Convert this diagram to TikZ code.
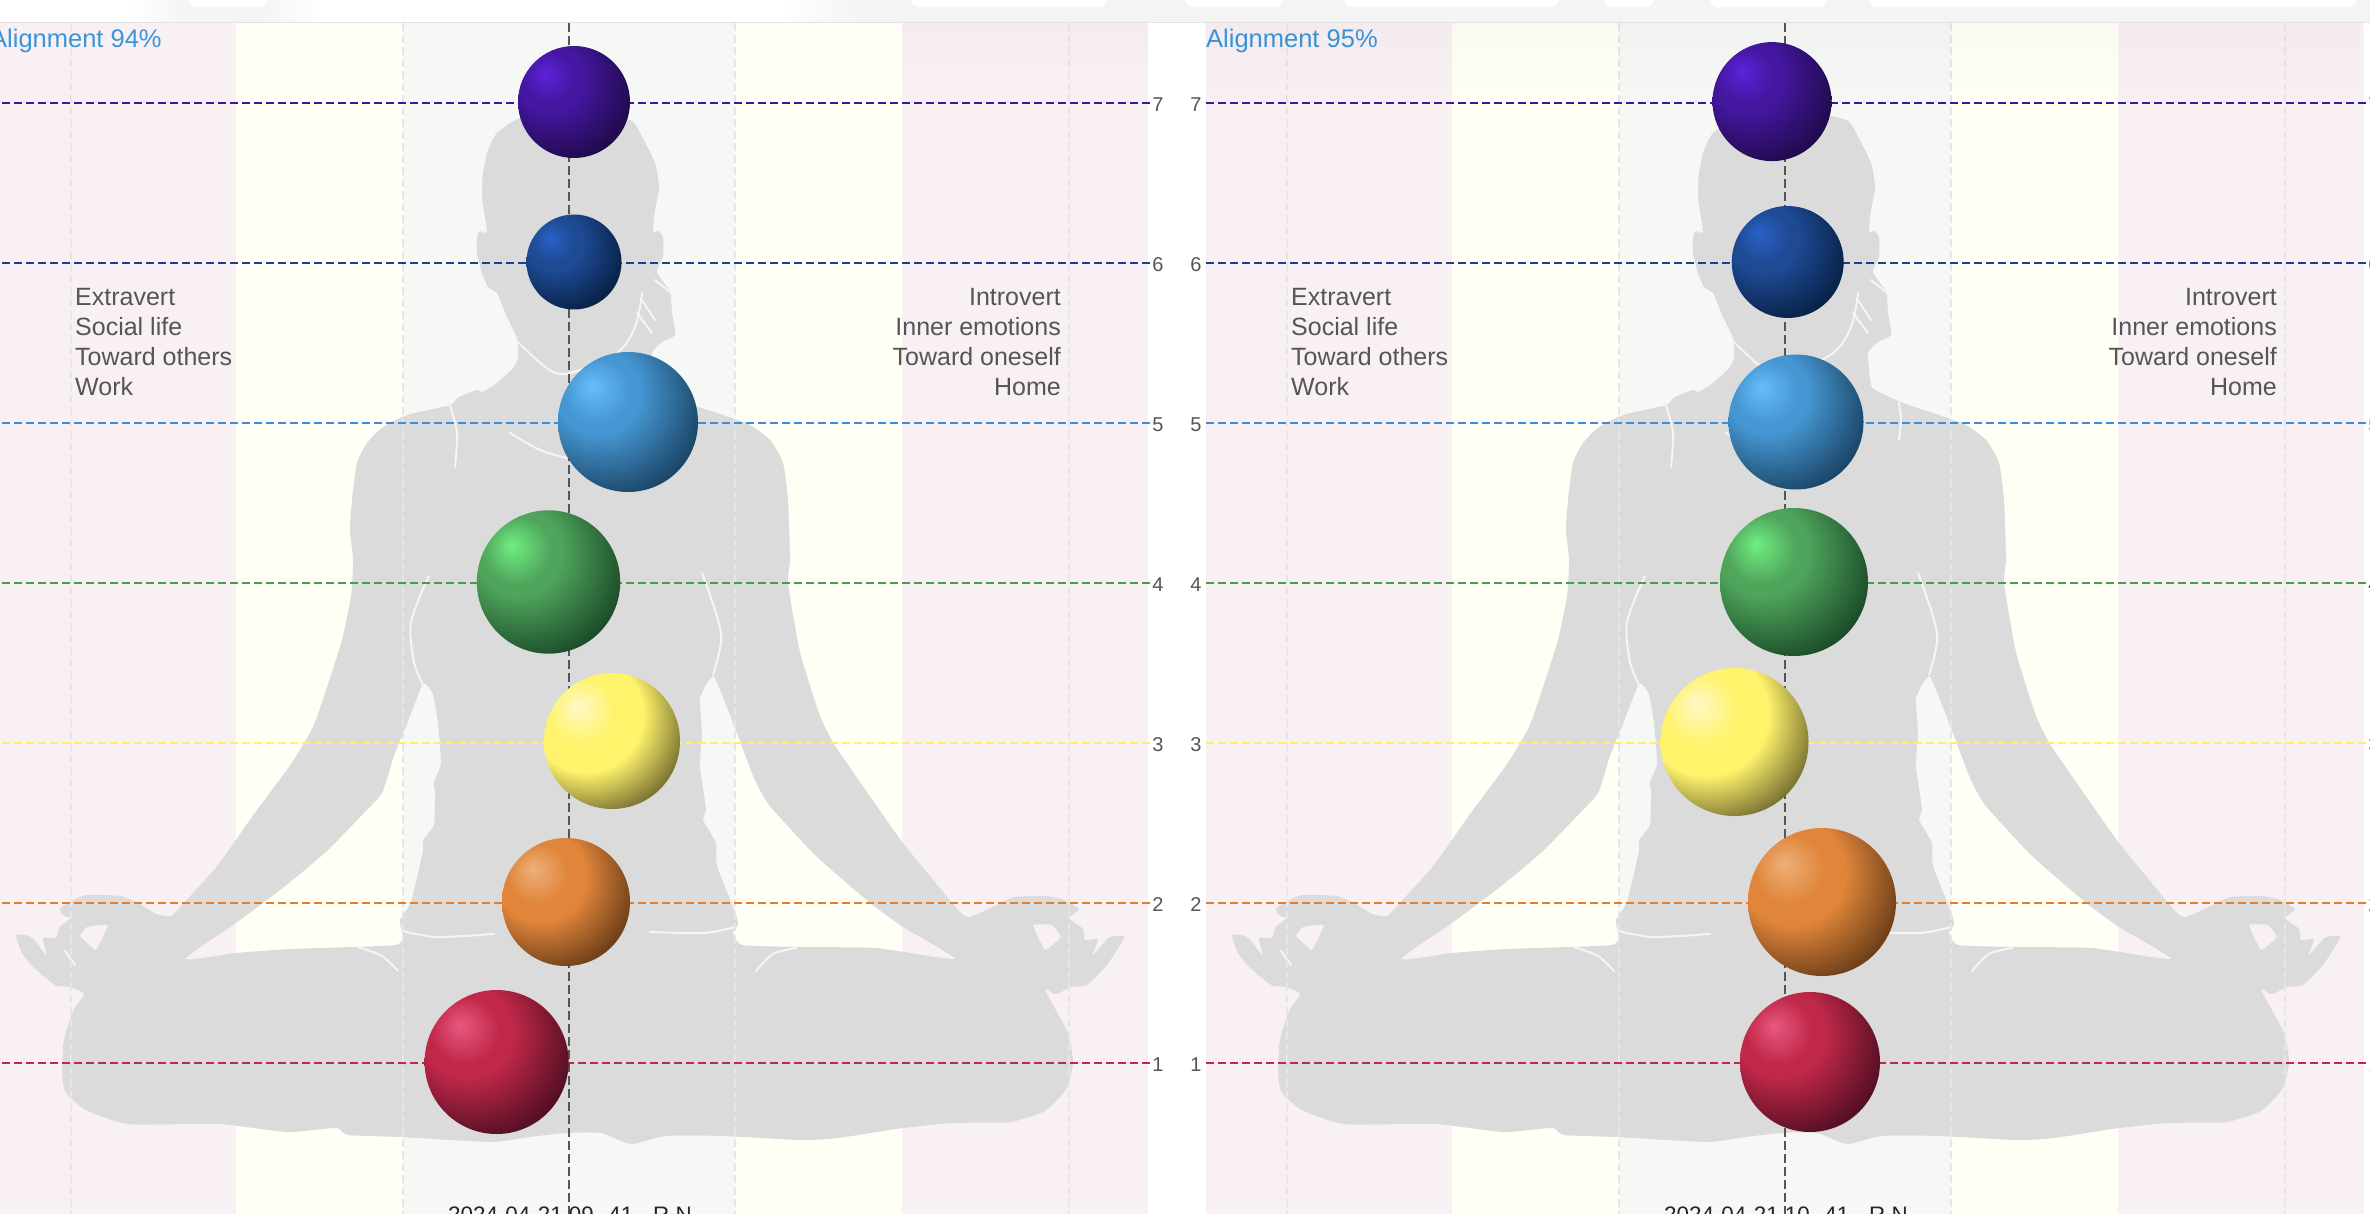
\documentclass[tikz,border=0pt]{standalone}
\usepackage{fontspec}
\setmainfont{Liberation Sans}
\usetikzlibrary{fadings}

\definecolor{bandGrey}{HTML}{F4F4F4}
\definecolor{bandLine}{HTML}{E2E2E2}
\definecolor{stripePink}{HTML}{F9F0F4}
\definecolor{stripeYellow}{HTML}{FFFFF6}
\definecolor{stripeSage}{HTML}{F6F8F5}
\definecolor{bodyGrey}{HTML}{DBDBDB}
\definecolor{gridGrey}{HTML}{E6E6E6}
\definecolor{labelGrey}{HTML}{555555}
\definecolor{alignBlue}{HTML}{3A95D8}
\definecolor{lvl7}{HTML}{40169C}
\definecolor{lvl6}{HTML}{1F3F90}
\definecolor{lvl5}{HTML}{3A8FD6}
\definecolor{lvl4}{HTML}{3F9F55}
\definecolor{lvl3}{HTML}{FFF06A}
\definecolor{lvl2}{HTML}{E07F30}
\definecolor{lvl1}{HTML}{C02848}

\newcommand{\ballshade}[5]{%
  \definecolor{hi#1}{HTML}{#2}\definecolor{mid#1}{HTML}{#3}\definecolor{dark#1}{HTML}{#4}%
  \pgfdeclareradialshading{ball#1}{\pgfpoint{-13bp}{13bp}}{%
    color(0bp)=(hi#1); color(12bp)=(mid#1); color(#5bp)=(mid#1);
    color(40bp)=(dark#1); color(80bp)=(dark#1)}}
\ballshade{crown}{5C22DC}{43179F}{170735}{15}
\ballshade{brow}{2A62C8}{1E4A94}{021733}{15}
\ballshade{throat}{66BEFA}{4596D2}{10304A}{15}
\ballshade{heart}{70EE80}{4FA55C}{0E351C}{15}
\ballshade{solar}{FFF8C8}{FFF36C}{4A451E}{21}
\ballshade{sacral}{EEB078}{E0853A}{4A2A0E}{18}
\ballshade{root}{E85880}{C02848}{35071A}{16}

\tikzstyle{pink stripe}=[fill=stripePink]
\tikzstyle{yellow stripe}=[fill=stripeYellow]
\tikzstyle{sage stripe}=[fill=stripeSage]
\tikzstyle{grid line}=[draw=gridGrey,line width=2pt,dash pattern=on 8pt off 4pt]
\tikzstyle{axis line}=[draw=labelGrey,line width=1.6pt,dash pattern=on 9pt off 4pt]
\tikzstyle{level line}=[line width=2pt,dash pattern=on 8pt off 4pt]
\tikzstyle{body line}=[draw=white!96!black,line width=2pt,line cap=round]
\tikzstyle{toolbar blob}=[fill=white,rounded corners=9pt]
\tikzstyle{side text}=[text=labelGrey,inner sep=0pt,font=\fontsize{25}{29.9}\selectfont]
\tikzstyle{level number}=[text=labelGrey,inner sep=0pt,font=\fontsize{20}{24}\selectfont]
\tikzstyle{align text}=[text=alignBlue,inner sep=0pt,anchor=west,font=\fontsize{25.5}{30}\selectfont]
\tikzstyle{stamp text}=[text=black!85,inner sep=0pt,anchor=base,font=\fontsize{22.4}{26}\selectfont]
\tikzstyle{chakra ball}=[circle,inner sep=0pt,shade]

\def\levels{7/103,6/263,5/423,4/583,3/743,2/903,1/1063}
\def\leftBalls{{(574,102)/56/crown}, {(574,262)/47.5/brow}, {(628,422)/70/throat}, {(548.5,582)/71.7/heart}, {(612,741)/68/solar}, {(566,902)/64/sacral}, {(496.6,1062)/72/root}}
\def\rightBalls{{(1772,101.6)/59.5/crown}, {(1787.7,262)/56/brow}, {(1796,422)/67.5/throat}, {(1794,582)/74/heart}, {(1734.5,742)/74/solar}, {(1822,902)/74/sacral}, {(1810,1062)/70/root}}
\def\blobs{189/268, 911/1107, 1185/1283, 1344/1559, 1604/1654, 1710/1827, 1869/2357}

\begin{document}
\begin{tikzpicture}[x=1pt,y=-1pt]

  \useasboundingbox (0,0) rectangle (2370,1214);
  \fill[white] (0,0) rectangle (2370,1214);

  % the two panels are the same, the second one is shifted
  \foreach \off/\pct/\stamp in {0/94/{2024-04-21 09. 41 - R.N}, 1216/95/{2024-04-21 10. 41 - R.N}} {
    \begin{scope}[xshift=\off pt]
      \fill[pink stripe] (-10,23) rectangle (236,1214);
      \fill[yellow stripe] (236,23) rectangle (403,1214);
      \fill[sage stripe] (403,23) rectangle (735,1214);
      \fill[yellow stripe] (735,23) rectangle (902,1214);
      \fill[pink stripe] (902,23) rectangle (1148,1214);

      % silhouette with its holes
      \fill[bodyGrey,even odd rule]
        plot[smooth cycle,tension=.35] coordinates {(573,108) (520,118) (497,133) (488,150) (483,173) (482,197) (487,232) (480,231) (477,237) (477,253) (482,273) (488,287) (497,293) (507,317) (517,338) (518,357) (513,368) (497,383) (482,392) (477,390) (457,398) (450,405) (407,415) (383,427) (367,443) (357,463) (352,500) (350,530) (353,560) (351,596) (342,640) (327,687) (313,727) (291,764) (254,814) (218,865) (182,905) (171,916) (156,914) (138,903) (120,896) (87,895) (69,902) (60,909) (64,916) (71,918) (60,927) (56,938) (43,938) (47,956) (36,942) (29,936) (16,935) (22,953) (33,967) (55,985) (69,987) (84,994) (73,1011) (64,1040) (62,1069) (65,1091) (84,1109) (128,1124) (219,1124) (287,1132) (336,1128) (348,1135) (400,1137) (491,1142) (529,1137) (567,1133) (601,1133) (631,1144) (666,1136) (723,1136) (800,1140) (838,1138) (903,1128) (953,1123) (1010,1122) (1045,1111) (1067,1088) (1073,1061) (1067,1031) (1045,990) (1056,994) (1071,987) (1087,985) (1106,966) (1119,947) (1124,936) (1110,937) (1102,945) (1092,956) (1098,939) (1085,940) (1083,929) (1069,918) (1079,910) (1075,906) (1062,899) (1045,896) (1014,897) (999,904) (970,917) (960,912) (934,881) (903,843) (876,805) (834,744) (819,713) (800,652) (788,583) (790,560) (788,500) (783,463) (770,440) (750,425) (723,415) (687,403) (661,391) (655,385) (652,353) (662,342) (675,335) (672,313) (670,292) (657,272) (663,257) (663,237) (658,231) (653,232) (655,210) (659,187) (655,163) (642,137) (630,120)}
        plot[smooth cycle,tension=.3] coordinates {(423,684) (407,724) (394,756) (382,793) (363,814) (327,851) (284,887) (236,923) (185,959) (236,953) (291,949) (353,947) (396,945) (403,938) (400,920) (411,902) (423,851) (423,840) (434,825) (435,793) (434,782) (441,764) (438,724) (433,694)}
        plot[smooth cycle,tension=.3] coordinates {(714,677) (700,698) (702,732) (700,767) (706,809) (703,820) (716,843) (717,866) (735,912) (738,924) (733,933) (742,945) (800,947) (876,948) (955,959) (903,927) (869,902) (815,855) (769,805) (754,778) (738,736)}
        plot[smooth cycle,tension=.2] coordinates {(108,925) (87,927) (80,936) (96,950)}
        plot[smooth cycle,tension=.2] coordinates {(1033,925) (1052,925) (1061,937) (1045,950)};

      % small light lines on the body
      \draw[body line] plot[smooth,tension=.6] coordinates {(518,342) (553,372) (580,370) (617,353) (635,327) (642,293)};
      \draw[body line] plot[smooth] coordinates {(450,405) (457,433) (455,467)};
      \draw[body line] plot[smooth] coordinates {(683,403) (685,420) (683,440)};
      \draw[body line] plot[smooth] coordinates {(510,433) (540,450) (567,458)};
      \draw[body line] plot[smooth] coordinates {(429,576) (411,622) (414,662) (423,685)};
      \draw[body line] plot[smooth] coordinates {(702,573) (721,633) (713,675)};
      \draw[body line] plot[smooth] coordinates {(403,931) (436,937) (494,934)};
      \draw[body line] plot[smooth] coordinates {(650,932) (704,933) (735,927)};
      \draw[body line] plot[smooth] coordinates {(358,947) (382,956) (398,971)};
      \draw[body line] plot[smooth] coordinates {(796,948) (773,954) (756,971)};
      \draw[body line] (655,280) -- (670,292);
      \draw[body line] (642,300) -- (655,320);
      \draw[body line] (637,313) -- (652,333);
      \draw[body line] (65,951) -- (75,965);

      \foreach \xx in {71,403,735,1069} {
        \coordinate (gridtop-\off-\xx) at (\xx,23);
        \coordinate (gridend-\off-\xx) at (\xx,1214);
        \path[grid line] (gridtop-\off-\xx) -- (gridend-\off-\xx);
      }
      \coordinate (axistop-\off) at (569,23);
      \coordinate (axisend-\off) at (569,1214);
      \path[axis line] (axistop-\off) -- (axisend-\off);

      \foreach \lev/\yy in \levels {
        \coordinate (start-\off-\lev) at (-10,\yy);
        \coordinate (end-\off-\lev) at (1150,\yy);
        \draw[level line,draw=lvl\lev] (start-\off-\lev) -- (end-\off-\lev);
        \node[level number] (num-\off-\lev) at (1158,\yy+2) {\lev};
      }

      \node[align text] (align-\off) at (-10,41) {Alignment \pct\%};
      \node[side text,anchor=west,align=left] (outer-\off) at (75,342) {Extravert\\Social life\\Toward others\\Work};
      \node[side text,anchor=east,align=right] (inner-\off) at (1061,342) {Introvert\\Inner emotions\\Toward oneself\\Home};
      \node[stamp text] (stamp-\off) at (570,1222) {\stamp};
    \end{scope}
  }

  \foreach \lev/\yy in \levels {
    \node[level number] (numleft-\lev) at (1196,\yy+2) {\lev};
  }

  % window bar at the top
  \fill[bandGrey] (0,0) rectangle (2370,22);
  \fill[white] (0,0) rectangle (130,22);
  \shade[left color=white,right color=bandGrey] (130,0) rectangle (190,22);
  \fill[white] (320,0) rectangle (780,22);
  \shade[left color=bandGrey,right color=white] (260,0) rectangle (320,22);
  \shade[left color=white,right color=bandGrey] (780,0) rectangle (860,22);
  \fill[bandLine] (0,22) rectangle (2370,23.5);
  \foreach \xa/\xb in \blobs {
    \fill[toolbar blob] (\xa,-20) rectangle (\xb,7.5);
  }

  % shadow of the bar on the panels
  \fill[black,opacity=.018,path fading=south] (1206,23.5) rectangle (2364,110);
  \fill[black,opacity=.015,path fading=south] (902,23.5) rectangle (1148,90);

  \foreach \pos/\rad/\name in \leftBalls {
    \node[chakra ball,minimum size=2*\rad pt,shading=ball\name] (\name-left) at \pos {};
  }
  \foreach \pos/\rad/\name in \rightBalls {
    \node[chakra ball,minimum size=2*\rad pt,shading=ball\name] (\name-right) at \pos {};
  }

\end{tikzpicture}
\end{document}
